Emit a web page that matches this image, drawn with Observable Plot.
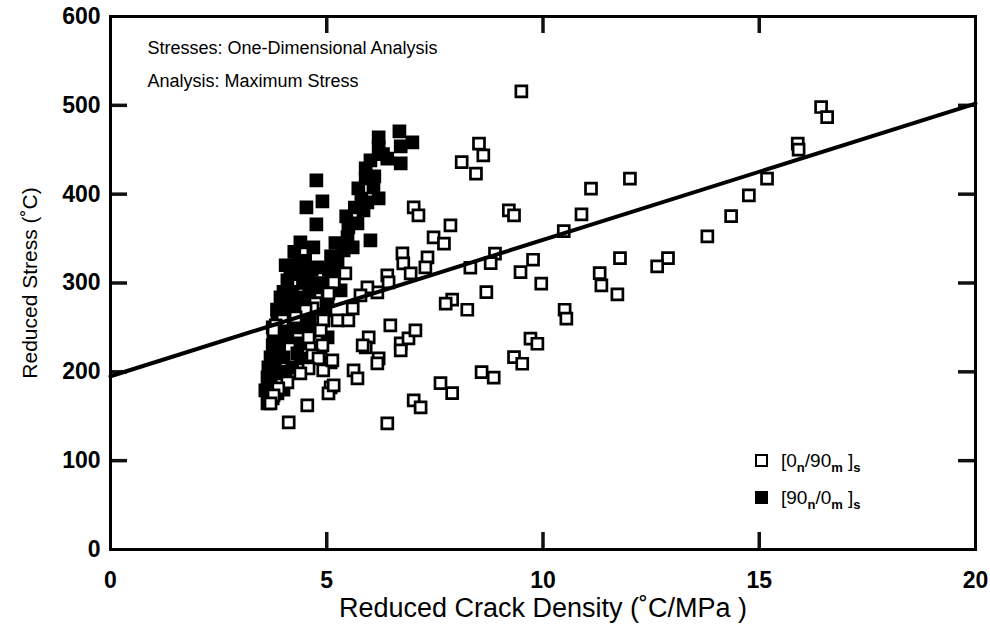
<!DOCTYPE html>
<html>
<head>
<meta charset="utf-8">
<script src="https://cdn.jsdelivr.net/npm/d3@7"></script>
<script src="https://cdn.jsdelivr.net/npm/@observablehq/plot@0.6"></script>
<style>
  html, body { margin: 0; padding: 0; background: #fff; }
  #wrap { position: relative; width: 990px; height: 633px; font-family: "Liberation Sans", Arial, Helvetica, sans-serif; }
  #legend { position: absolute; left: 755px; top: 442px; font-size: 19px; color: #000; }
  #legend .row { display: flex; align-items: center; white-space: nowrap; height: 37px; line-height: 20px; }
  #legend .sw { width: 9px; height: 9px; border: 2.5px solid #000; margin-right: 13px; box-sizing: content-box; }
  #legend sub { font-size: 13px; vertical-align: -5px; line-height: 0; font-weight: bold; }
</style>
</head>
<body>
<div id="wrap"></div>
<script>
// ---- data ----
const xTicks = [0, 5, 10, 15, 20];
const yTicks = [0, 100, 200, 300, 400, 500, 600];
const xLabel = "Reduced Crack Density (˚C/MPa )";
const yLabel = "Reduced Stress (˚C)";
const note1 = "Stresses: One-Dimensional Analysis";
const note2 = "Analysis: Maximum Stress";

// fitted line end points
const fitX = [0, 20];
const fitY = [195, 502];

// [90n/0m]s (filled squares)
const filledX = [6.68, 6.98, 6.71, 6.71, 6.20, 6.20, 6.01, 5.90, 5.90, 5.73, 6.08, 6.20, 5.94, 5.85, 5.71, 5.50, 6.01, 5.48, 5.39, 5.25, 5.13, 5.16, 5.32, 5.02, 4.97,
  4.76, 4.90, 4.53, 4.76, 4.39, 4.69,
  4.16, 4.35, 4.79, 4.09, 4.55, 3.93, 4.32, 4.74, 3.86, 4.16, 4.55, 3.77, 4.09, 4.39, 3.70, 4.00, 4.32, 3.63, 3.93, 3.70, 3.63, 3.86, 3.58, 4.23, 4.79, 4.92, 5.02, 4.86,
  3.75, 3.65, 4.00, 4.45, 5.10, 5.60, 5.80, 6.10, 6.30, 3.80, 4.20, 4.60, 3.70, 4.05,
  3.70, 3.80, 3.90, 4.00, 4.10, 4.20, 4.40, 4.50, 3.75, 3.85, 4.05, 4.25, 4.30, 4.45, 4.60, 4.60, 4.65, 4.40, 4.20, 4.00, 3.75, 3.65, 4.85, 5.05, 5.20, 5.45, 5.65, 6.40];
const filledY = [470.7, 458.3, 453.8, 434.7, 464.0, 452.7, 438.1, 429.1, 417.8, 406.5, 407.7, 395.3, 390.8, 381.8, 367.1, 362.6, 348.0, 351.4, 336.7, 322.1, 310.8, 299.5, 291.7, 283.8, 269.1,
  415.5, 391.9, 385.1, 366.0, 345.7, 340.1,
  317.6, 322.1, 317.6, 302.9, 306.3, 283.8, 283.8, 295.0, 261.3, 261.3, 254.5, 238.7, 238.7, 232.0, 216.2, 216.2, 220.7, 193.7, 198.2, 171.2, 164.4, 175.7, 179.1, 269.1, 277.0, 257.9, 238.7, 227.5,
  250, 205, 290, 300, 330, 340, 395, 420, 445, 230, 275, 245, 190, 200,
  185, 205, 225, 245, 270, 290, 310, 325, 230, 270, 320, 335, 250, 275, 290, 260, 315, 215, 205, 180, 170, 190, 300, 315, 345, 375, 385, 440];

// [0n/90m]s (open squares)
const openX = [7.01, 7.12, 7.47, 6.75, 6.77, 7.33, 7.28, 6.94, 6.40, 5.43, 5.16, 5.04, 6.17, 5.94, 5.78, 5.60, 5.25, 5.50, 4.74, 4.67, 4.51, 4.28, 3.98, 3.82, 3.77,
  4.92, 4.86, 4.58, 4.90, 4.67, 4.81, 5.09, 4.92, 4.58, 4.39, 4.09, 3.88, 3.77, 3.70, 5.09, 5.04, 4.55, 4.12, 6.47, 5.97, 5.90, 6.20, 6.17, 6.71, 6.89, 7.05, 6.71,
  5.62, 5.71, 6.40, 7.01, 7.17, 6.43, 5.83, 5.16, 5.13,
  9.50, 8.52, 8.62, 8.12, 8.45, 9.21, 9.33, 7.86, 7.71, 11.11, 12.01, 10.89, 10.48, 8.89, 8.79, 8.32, 9.77, 9.48, 9.96, 11.78, 12.89, 12.64, 11.31, 11.35, 11.72,
  8.69, 7.90, 7.75, 8.25, 10.50, 10.54, 9.71, 9.87, 9.33, 9.52, 8.58, 8.86, 7.63, 7.90,
  16.43, 16.57, 15.89, 15.91, 15.18, 14.76, 14.35, 13.80];
const openY = [385.1, 376.1, 351.4, 333.3, 322.1, 328.8, 317.6, 310.8, 308.6, 310.8, 300.7, 288.3, 289.4, 295.0, 286.0, 271.4, 257.9, 257.9, 277.0, 271.4, 269.1, 261.3, 257.9, 252.3, 246.6,
  257.9, 246.6, 238.7, 229.7, 218.5, 215.1, 210.6, 201.6, 203.8, 198.2, 188.1, 181.3, 173.4, 164.4, 182.4, 175.7, 162.2, 143.0, 252.3, 238.7, 227.5, 215.1, 209.5, 232.0, 237.6, 246.6, 224.1,
  201.6, 192.6, 141.9, 167.8, 159.9, 300.7, 229.7, 184.7, 212.8,
  515.8, 456.9, 443.7, 436.1, 423.1, 381.8, 376.1, 364.9, 344.3, 406.2, 417.5, 377.3, 358.4, 333.0, 322.4, 317.2, 326.2, 312.3, 299.2, 328.0, 328.0, 318.7, 311.1, 297.3, 287.2,
  289.8, 281.2, 276.7, 269.9, 269.9, 259.8, 237.3, 231.6, 216.6, 209.1, 199.7, 193.4, 187.3, 176.0,
  498.1, 486.8, 456.9, 450.1, 417.5, 398.6, 375.3, 352.5];

// ---- build ----
const filled = filledX.map((x, i) => ({x, y: filledY[i]}));
const open = openX.map((x, i) => ({x, y: openY[i]}));
const fit = fitX.map((x, i) => ({x, y: fitY[i]}));

const W = 990, H = 633, mt = 16, mr = 15, mb = 84, ml = 110;
const xDom = [0, 20], yDom = [0, 600];
const iw = W - ml - mr, ih = H - mt - mb;
const tl = 17; // inward tick length in pixels
const tx = tl * (xDom[1] - xDom[0]) / iw;
const ty = tl * (yDom[1] - yDom[0]) / ih;
const innerX = xTicks.slice(1, -1);
const innerY = yTicks.slice(1, -1);
const tickStyle = {stroke: "#111111", strokeWidth: 3.5};

const chart = Plot.plot({
  width: W, height: H,
  marginTop: mt, marginRight: mr, marginBottom: mb, marginLeft: ml,
  style: {fontFamily: "Liberation Sans", color: "#000", background: "#fff"},
  x: {domain: xDom},
  y: {domain: yDom},
  marks: [
    Plot.ruleX(innerX, {x: d => d, y1: yDom[0], y2: yDom[0] + ty, ...tickStyle}),
    Plot.ruleX(innerX, {x: d => d, y1: yDom[1], y2: yDom[1] - ty, ...tickStyle}),
    Plot.ruleY(innerY, {y: d => d, x1: xDom[0], x2: xDom[0] + tx, ...tickStyle}),
    Plot.ruleY(innerY, {y: d => d, x1: xDom[1], x2: xDom[1] - tx, ...tickStyle}),
    Plot.frame({stroke: "#000", strokeWidth: 3}),
    Plot.axisX({ticks: xTicks, tickSize: 0, tickPadding: 22, fontSize: 23, fontWeight: "bold", label: null, tickFormat: d => String(d)}),
    Plot.axisY({ticks: yTicks, tickSize: 0, tickPadding: 10, fontSize: 23, fontWeight: "bold", label: null, tickFormat: d => String(d)}),
    Plot.dot(filled, {x: "x", y: "y", symbol: "square", r: 6.2, fill: "#000", stroke: "#000", strokeWidth: 2.7}),
    Plot.dot(open, {x: "x", y: "y", symbol: "square", r: 6.2, fill: "#fff", stroke: "#000", strokeWidth: 2.7}),
    Plot.line(fit, {x: "x", y: "y", stroke: "#000", strokeWidth: 4}),
    Plot.text([xLabel], {frameAnchor: "bottom", lineAnchor: "middle", textAnchor: "middle", dy: 59, fontSize: 27}),
    Plot.text([yLabel], {frameAnchor: "left", textAnchor: "middle", lineAnchor: "middle", dx: -80, rotate: -90, fontSize: 21}),
    Plot.text([note1], {frameAnchor: "top-left", textAnchor: "start", lineAnchor: "middle", dx: 37, dy: 32, fontSize: 18}),
    Plot.text([note2], {frameAnchor: "top-left", textAnchor: "start", lineAnchor: "middle", dx: 37, dy: 65, fontSize: 18})
  ]
});

const wrap = document.getElementById("wrap");
wrap.appendChild(chart);
const legend = document.createElement("div");
legend.id = "legend";
legend.innerHTML =
  '<div class="row"><span class="sw" style="background:#fff"></span><span>[0<sub>n</sub>/90<sub>m</sub> ]<sub>s</sub></span></div>' +
  '<div class="row"><span class="sw" style="background:#000"></span><span>[90<sub>n</sub>/0<sub>m</sub> ]<sub>s</sub></span></div>';
wrap.appendChild(legend);
</script>
</body>
</html>
